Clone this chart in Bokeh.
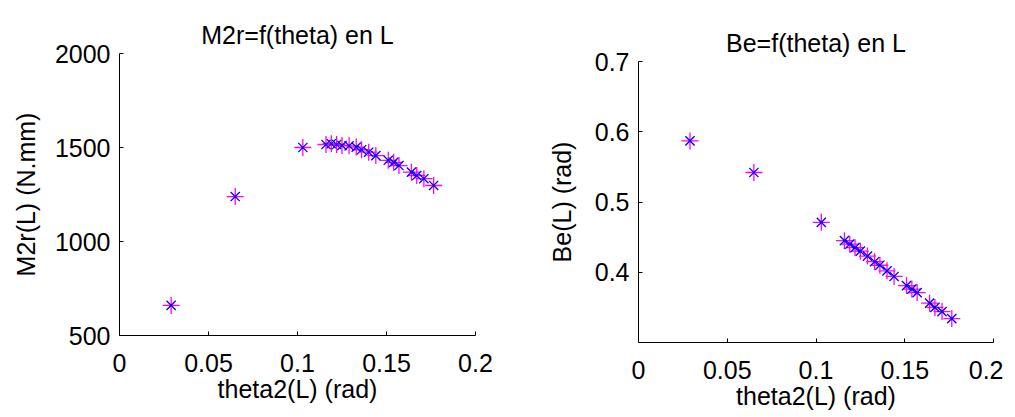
from bokeh.plotting import figure
from bokeh.layouts import row
from bokeh.models import Range1d, FixedTicker, CustomJSTickFormatter, Title
from bokeh.embed import file_html
from bokeh.resources import INLINE

# ---- data ----
theta2 = [0.029, 0.065, 0.103, 0.116, 0.119, 0.122, 0.125, 0.129, 0.133, 0.136,
          0.140, 0.144, 0.151, 0.154, 0.157, 0.164, 0.167, 0.171, 0.1765]
m2r = [660, 1239, 1500, 1516, 1520, 1516, 1511, 1509, 1502, 1488,
       1475, 1457, 1432, 1421, 1404, 1369, 1351, 1334, 1298]
be = [0.587, 0.542, 0.471, 0.445, 0.440, 0.435, 0.430, 0.423, 0.415, 0.410,
      0.402, 0.394, 0.381, 0.376, 0.371, 0.356, 0.350, 0.344, 0.334]

x_ticks = [0, 0.05, 0.1, 0.15, 0.2]
m2r_ticks = [500, 1000, 1500, 2000]
be_ticks = [0.4, 0.5, 0.6, 0.7]

FONT = "Liberation Sans"
FS = "25px"

fmt = CustomJSTickFormatter(code="return String(Math.round(tick*1000)/1000);")


def make_fig(title, ylabel, yr, yticks, ys, fw, fh, bl, br, ylab_standoff):
    p = figure(frame_width=fw, frame_height=fh, min_border_left=bl,
               min_border_right=br, min_border_top=53, min_border_bottom=72,
               output_backend="svg", toolbar_location=None,
               x_range=Range1d(0, 0.2), y_range=Range1d(*yr))
    p.add_layout(Title(text=title, align="center", text_font=FONT,
                       text_font_size=FS, text_font_style="normal",
                       text_color="black", standoff=10), "above")
    p.outline_line_color = None
    p.grid.visible = False
    p.background_fill_color = "white"
    p.border_fill_color = "white"
    for ax in (p.xaxis[0], p.yaxis[0]):
        ax.axis_line_color = "black"
        ax.axis_line_width = 1
        ax.major_tick_line_color = "black"
        ax.major_tick_in = 4
        ax.major_tick_out = 0
        ax.minor_tick_line_color = None
        ax.major_label_text_font = FONT
        ax.major_label_text_font_size = FS
        ax.major_label_text_color = "black"
        ax.axis_label_text_font = FONT
        ax.axis_label_text_font_size = FS
        ax.axis_label_text_font_style = "normal"
        ax.axis_label_text_color = "black"
        ax.formatter = fmt
    p.xaxis[0].ticker = FixedTicker(ticks=x_ticks)
    p.yaxis[0].ticker = FixedTicker(ticks=yticks)
    p.xaxis[0].axis_label = "theta2(L) (rad)"
    p.yaxis[0].axis_label = ylabel
    p.xaxis[0].major_label_standoff = 18
    p.xaxis[0].axis_label_standoff = 0
    p.yaxis[0].major_label_standoff = 9
    p.yaxis[0].axis_label_standoff = ylab_standoff
    p.scatter(theta2, ys, marker="cross", size=17, line_color="#FF00FF",
              line_width=1.3)
    p.scatter(theta2, ys, marker="x", size=13, line_color="#0000FF",
              line_width=1.3)
    return p


p1 = make_fig("M2r=f(theta) en L", "M2r(L) (N.mm)", (500, 2000), m2r_ticks, m2r,
              356, 282, 119, 40, 12)
p2 = make_fig("Be=f(theta) en L", "Be(L) (rad)", (0.3, 0.7), be_ticks, be,
              355, 281, 123, 10, 16)
p2.margin = (8, 0, 0, 0)

layout = row(p1, p2)
open("out.html", "w").write(file_html(layout, INLINE))
